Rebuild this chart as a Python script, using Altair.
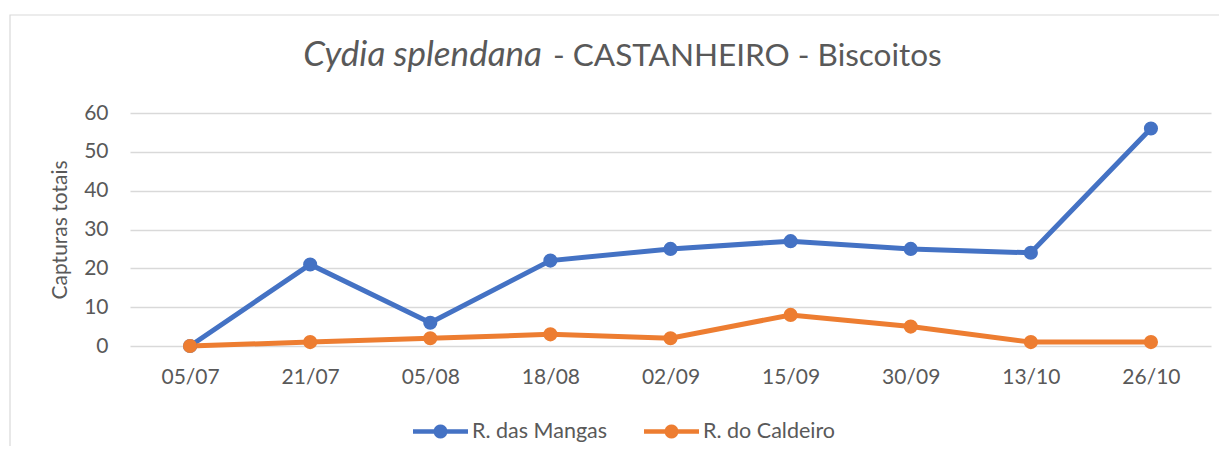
import altair as alt
import pandas as pd

dates = ["05/07", "21/07", "05/08", "18/08", "02/09", "15/09", "30/09", "13/10", "26/10"]
mangas = [0, 21, 6, 22, 25, 27, 25, 24, 56]
caldeiro = [0, 1, 2, 3, 2, 8, 5, 1, 1]
series = ["R. das Mangas", "R. do Caldeiro"]
colors = ["#4472C4", "#ED7D31"]

rows = []
for d, a, b in zip(dates, mangas, caldeiro):
    rows.append({"data": d, "serie": series[0], "v": a})
    rows.append({"data": d, "serie": series[1], "v": b})
df = pd.DataFrame(rows)

FONT = "Lato"
GREY = "#595959"

# legend symbol: thick line with a dot in the middle
x0 = 0.2414
sym = (f"M-1,-0.082 L-{x0},-0.082 A0.255,0.255 0 0,1 {x0},-0.082 L1,-0.082 "
       f"L1,0.082 L{x0},0.082 A0.255,0.255 0 0,1 -{x0},0.082 L-1,0.082 Z")

legend = alt.Legend(title=None, orient="none", direction="horizontal",
                    legendX=283, legendY=291,
                    symbolType=sym, symbolSize=3025,
                    symbolStrokeWidth=0, symbolOpacity=1, labelFont=FONT,
                    labelFontSize=21.5, labelColor=GREY,
                    labelOffset=4, columnPadding=36)

x_enc = alt.X("data:N", sort=dates, scale=alt.Scale(paddingInner=0, paddingOuter=0),
              axis=alt.Axis(title=None, labelAngle=0, domain=False, ticks=False,
                            labelPadding=20, labelFont=FONT, labelFontSize=21,
                            labelColor=GREY, grid=False))
y_enc = alt.Y("v:Q", scale=alt.Scale(domain=[0, 60]),
              axis=alt.Axis(title="Capturas totais", values=[0, 10, 20, 30, 40, 50, 60],
                            domain=False, ticks=False, labelPadding=22,
                            labelFont=FONT, labelFontSize=21, labelColor=GREY,
                            titleFont=FONT, titleFontSize=21, titleColor=GREY,
                            titleFontWeight="normal", titlePadding=13,
                            gridColor="#d9d9d9", gridWidth=1.3))
color_scale = alt.Scale(domain=series, range=colors)

base = alt.Chart(df)

lines = base.mark_line(strokeWidth=5).encode(
    x=x_enc, y=y_enc,
    color=alt.Color("serie:N", scale=color_scale, legend=legend),
)
points = base.mark_point(filled=True, size=200, opacity=1).encode(
    x=x_enc, y=y_enc,
    color=alt.Color("serie:N", scale=color_scale, legend=legend),
)

border = alt.Chart(pd.DataFrame({"a": [0]})).mark_rect(
    fill=None, stroke="#d9d9d9", strokeWidth=1.2
).encode(x=alt.value(-120), x2=alt.value(1100), y=alt.value(-98), y2=alt.value(400))

title_df = pd.DataFrame({"a": [0]})
t1 = alt.Chart(title_df).mark_text(
    text="Cydia splendana", font=FONT, fontSize=35, fontStyle="italic",
    color=GREY, align="right", baseline="alphabetic"
).encode(x=alt.value(412), y=alt.value(-47))
t2 = alt.Chart(title_df).mark_text(
    text="- CASTANHEIRO - Biscoitos", font=FONT, fontSize=31.5,
    color=GREY, align="left", baseline="alphabetic"
).encode(x=alt.value(423), y=alt.value(-47))

chart = alt.layer(border, lines, points, t1, t2).properties(
    width=1081, height=233,
    padding={"left": 122, "top": 105, "right": 8, "bottom": 100},
    autosize=alt.AutoSizeParams(type="none"),
    background="white",
).configure_view(stroke=None)

chart.save("out.html", embed_options={"renderer": "svg", "actions": False})
